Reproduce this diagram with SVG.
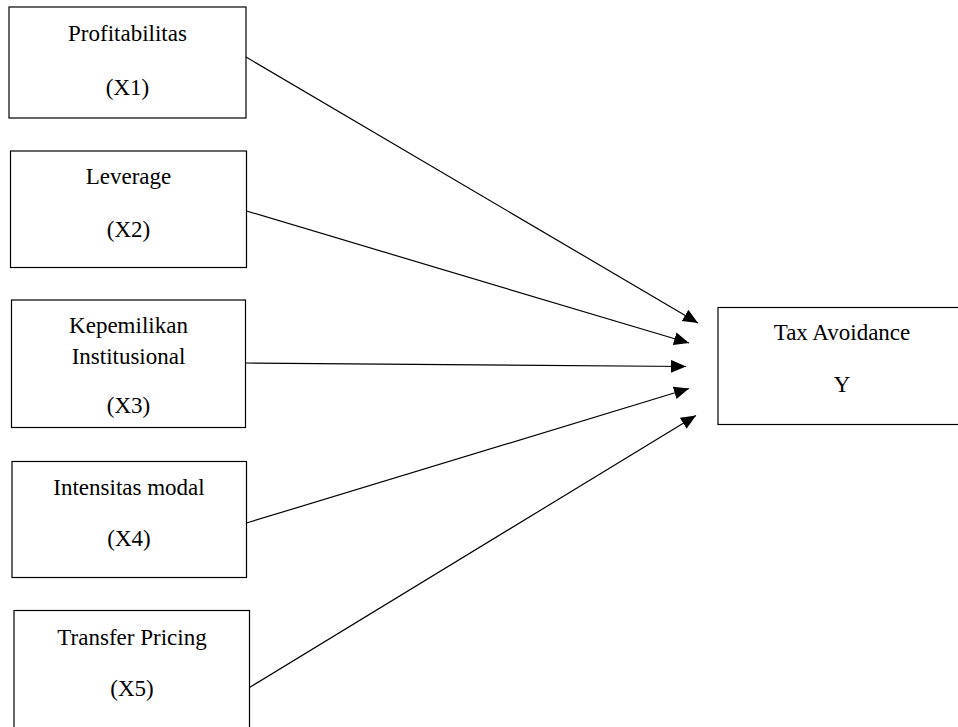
<svg xmlns="http://www.w3.org/2000/svg" width="958" height="727" viewBox="0 0 958 727">
<style>
.box{fill:#fff;stroke:#000;stroke-width:1.2}
.t{font-family:"Liberation Serif","Times New Roman",serif;font-size:23px;fill:#000;text-anchor:middle}
.c{stroke:#000;stroke-width:1.2;fill:none;marker-end:url(#ah)}
</style>
<defs>
<marker id="ah" markerUnits="userSpaceOnUse" markerWidth="16" markerHeight="14" refX="15" refY="6.5" orient="auto">
<path d="M0,0 L15,6.5 L0,13 z" fill="#000"/>
</marker>
</defs>
<rect width="958" height="727" fill="#fff"/>
<g id="x1">
<rect class="box" x="9" y="7" width="237" height="111"/>
<text class="t" x="127.5" y="40.5">Profitabilitas</text>
<text class="t" x="127.5" y="94.5">(X1)</text>
</g>
<g id="x2">
<rect class="box" x="10.5" y="151" width="236" height="116.5"/>
<text class="t" x="128.5" y="184">Leverage</text>
<text class="t" x="128.5" y="236.5">(X2)</text>
</g>
<g id="x3">
<rect class="box" x="11.5" y="300" width="234" height="127.5"/>
<text class="t" x="128.5" y="333">Kepemilikan</text>
<text class="t" x="128.5" y="364">Institusional</text>
<text class="t" x="128.5" y="412.5">(X3)</text>
</g>
<g id="x4">
<rect class="box" x="12" y="461.5" width="234.5" height="116"/>
<text class="t" x="129" y="495">Intensitas modal</text>
<text class="t" x="129" y="546">(X4)</text>
</g>
<g id="x5">
<rect class="box" x="14" y="610.5" width="235.5" height="125"/>
<text class="t" x="132" y="645">Transfer Pricing</text>
<text class="t" x="132" y="696">(X5)</text>
</g>
<g id="y">
<rect class="box" x="718" y="307.5" width="250" height="117"/>
<text class="t" x="842" y="340">Tax Avoidance</text>
<text class="t" x="842" y="391.5">Y</text>
</g>
<g id="connectors">
<line class="c" x1="246" y1="57" x2="698" y2="323"/>
<line class="c" x1="246.5" y1="211" x2="689" y2="343"/>
<line class="c" x1="245.5" y1="363" x2="686" y2="366.5"/>
<line class="c" x1="246.5" y1="523" x2="689" y2="388.5"/>
<line class="c" x1="249.5" y1="687.5" x2="696" y2="415.5"/>
</g>
</svg>
